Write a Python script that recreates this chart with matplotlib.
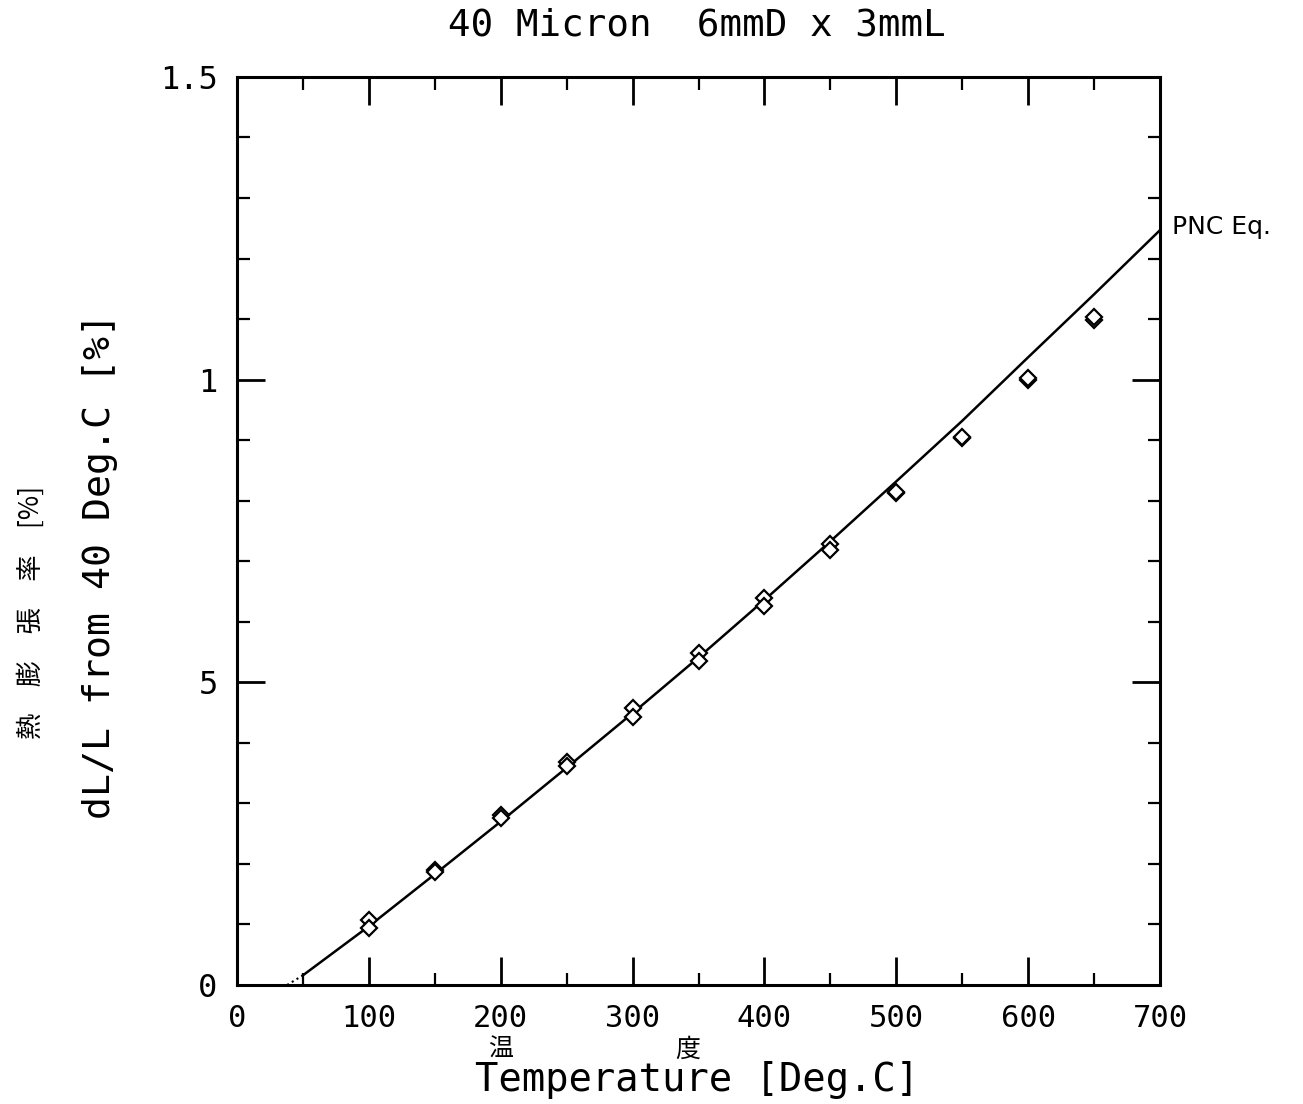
#thermal expansion of 40 micron sample vs PNC equation
import numpy as np
import matplotlib.pyplot as plt

temps = [100, 150, 200, 250, 300, 350, 400, 450, 500, 550, 600, 650]
run_a = [0.107, 0.190, 0.280, 0.369, 0.458, 0.549, 0.639, 0.728, 0.812, 0.904, 1.000, 1.099]
run_b = [0.094, 0.186, 0.276, 0.361, 0.443, 0.535, 0.626, 0.718, 0.815, 0.906, 1.002, 1.103]

# PNC equation curve
pnc_t = [50, 100, 150, 200, 250, 300, 350, 400, 450, 500, 550, 600, 650, 700]
pnc_v = [0.016, 0.097, 0.183, 0.270, 0.359, 0.449, 0.541, 0.636, 0.733, 0.832, 0.932, 1.037, 1.141, 1.247]
pnc_start_t = [38, 50]
pnc_start_v = [0.0, 0.016]

xticks = [0, 100, 200, 300, 400, 500, 600, 700]
yticks = [0, 0.5, 1.0, 1.5]
ytick_labels = ['0', '5', '1', '1.5']

mono = ['DejaVu Sans Mono', 'Noto Sans CJK JP']
jp = ['Noto Sans CJK JP', 'DejaVu Sans']

fig = plt.figure(figsize=(13.03, 11.04), dpi=100)
ax = fig.add_axes([0.1819, 0.1078, 0.7084, 0.8225])

ax.plot(pnc_t, pnc_v, color='black', lw=1.8)
ax.plot(pnc_start_t, pnc_start_v, color='black', lw=1.5, ls=':')
ax.plot(temps, run_a, ls='none', marker='D', ms=8, mfc='white', mec='black', mew=1.6)
ax.plot(temps, run_b, ls='none', marker='D', ms=8, mfc='white', mec='black', mew=1.6)

ax.set_xlim(0, 700)
ax.set_ylim(0, 1.5)
ax.set_xticks(xticks)
ax.set_xticks(np.arange(50, 700, 100), minor=True)
ax.set_yticks(yticks)
ax.set_yticks(np.arange(0, 1.51, 0.1), minor=True)
ax.set_xticklabels([str(t) for t in xticks], family=mono, fontsize=22)
ax.set_yticklabels(ytick_labels, family=mono, fontsize=23)
ax.tick_params(which='major', direction='in', length=20, width=2, top=True, right=True, pad=14)
ax.tick_params(which='minor', direction='in', length=9, width=1.6, top=True, right=True)
for s in ax.spines.values():
    s.set_linewidth(2.2)

ax.text(1.013, 0.835, 'PNC Eq.', transform=ax.transAxes, fontsize=18,
        family='DejaVu Sans', va='center', ha='left')

fig.text(0.535, 0.977, '40 Micron  6mmD x 3mmL', family=mono, fontsize=27,
         ha='center', va='center')

fig.text(0.077, 0.487, 'dL/L from 40 Deg.C [%]', family=mono, fontsize=27.5,
         rotation=90, ha='center', va='center')
fig.text(0.024, 0.445, '熱　膨　張　率　[%]', family=jp, fontsize=19,
         rotation=90, ha='center', va='center')

fig.text(0.384, 0.049, '温', family=jp, fontsize=18, ha='center', va='center')
fig.text(0.528, 0.049, '度', family=jp, fontsize=18, ha='center', va='center')
fig.text(0.535, 0.022, 'Temperature [Deg.C]', family=mono, fontsize=28,
         ha='center', va='center')

fig.savefig('out.png', dpi=100)
